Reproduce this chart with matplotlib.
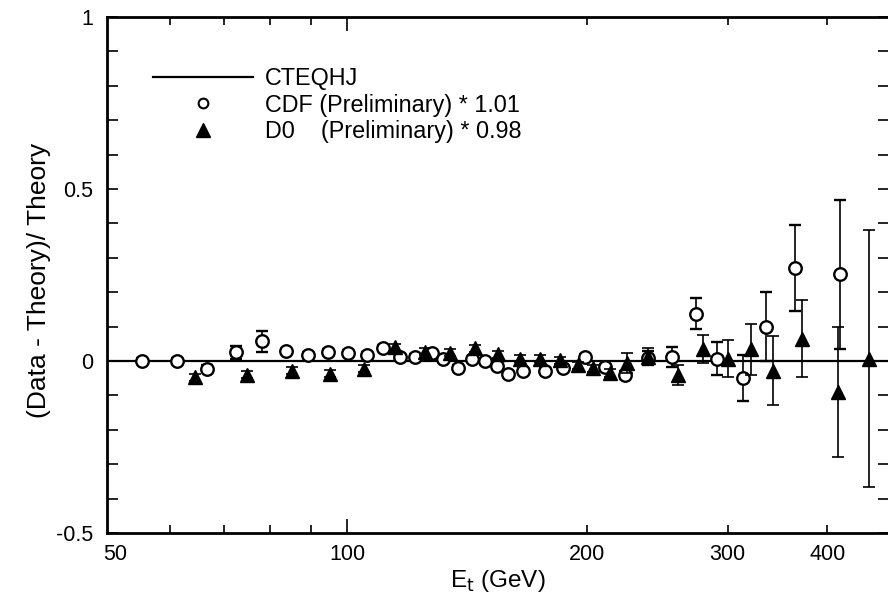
import matplotlib.pyplot as plt
from matplotlib.lines import Line2D
from matplotlib.ticker import FixedLocator, FuncFormatter, MultipleLocator

plt.rcParams['font.family'] = ['Liberation Sans', 'DejaVu Sans']

# CDF inclusive jet cross section, (data - theory)/theory, normalised by 1.01
cdf_et = [55.3, 61.2, 66.7, 72.6, 78.2, 83.8, 89.4, 94.7, 100.3, 105.9,
          111.0, 116.5, 121.7, 127.8, 131.9, 137.8, 143.5, 149.0, 154.2, 159.2,
          166.3, 177.1, 186.6, 198.9, 210.7, 223.2, 238.6, 255.7, 274.0, 291.0,
          313.8, 335.0, 364.7, 415.0]
cdf_val = [0.000, 0.000, -0.023, 0.025, 0.057, 0.028, 0.017, 0.026, 0.024, 0.018,
           0.038, 0.012, 0.013, 0.022, 0.005, -0.021, 0.005, -0.001, -0.015, -0.038,
           -0.028, -0.028, -0.019, 0.011, -0.018, -0.040, 0.008, 0.012, 0.138, 0.007,
           -0.050, 0.100, 0.270, 0.252]
cdf_err = [0.008, 0.008, 0.010, 0.020, 0.030, 0.008, 0.008, 0.008, 0.008, 0.008,
           0.008, 0.008, 0.008, 0.008, 0.008, 0.008, 0.008, 0.008, 0.008, 0.008,
           0.008, 0.008, 0.008, 0.008, 0.010, 0.012, 0.020, 0.030, 0.044, 0.048,
           0.067, 0.101, 0.126, 0.216]

# D0 points, normalised by 0.98
d0_et = [64.5, 74.9, 85.3, 95.2, 105.0, 114.9, 125.3, 134.6, 144.7, 154.7,
         164.8, 174.6, 185.0, 194.9, 203.5, 213.7, 224.5, 238.6, 260.0, 279.6,
         300.5, 321.0, 342.0, 372.0, 412.0, 451.6]
d0_val = [-0.047, -0.040, -0.028, -0.037, -0.022, 0.040, 0.027, 0.024, 0.037, 0.020,
          0.007, 0.007, 0.002, -0.012, -0.021, -0.035, -0.006, 0.012, -0.042, 0.034,
          0.007, 0.034, -0.028, 0.065, -0.090, 0.007]
d0_err = [0.010, 0.010, 0.010, 0.010, 0.010, 0.010, 0.010, 0.010, 0.010, 0.010,
          0.010, 0.010, 0.010, 0.010, 0.010, 0.012, 0.030, 0.025, 0.029, 0.041,
          0.053, 0.075, 0.100, 0.111, 0.189, 0.373]

x_range = [50, 478]
x_labelled = [200, 300, 400]
y_ticks = [-0.5, 0, 0.5, 1]
y_ticklabels = ['-0.5', '0', '0.5', '1']

fig = plt.figure(figsize=(8.88, 5.96), dpi=100)
ax = fig.add_axes([107 / 888, 63 / 596, 782 / 888, 516 / 596])

# theory reference line
ax.plot(x_range, [0, 0], color='k', lw=1.6, zorder=2)

ax.errorbar(cdf_et, cdf_val, yerr=cdf_err, fmt='o', ms=9, mfc='white', mec='k',
            mew=1.7, ecolor='k', elinewidth=1.2, capsize=4.5, capthick=1.2, zorder=3)
ax.errorbar(d0_et, d0_val, yerr=d0_err, fmt='^', ms=10.5, mfc='k', mec='k',
            ecolor='k', elinewidth=1.2, capsize=4.5, capthick=1.2, zorder=4)

ax.set_xscale('log')
ax.set_xlim(*x_range)
ax.set_ylim(-0.5, 1)

ax.xaxis.set_major_locator(FixedLocator([100]))
ax.xaxis.set_minor_locator(FixedLocator([60, 70, 80, 90] + x_labelled))
ax.xaxis.set_major_formatter(FuncFormatter(lambda v, p: f'{v:g}'))
ax.xaxis.set_minor_formatter(FuncFormatter(lambda v, p: f'{v:g}' if v in x_labelled else ''))
ax.set_yticks(y_ticks)
ax.set_yticklabels(y_ticklabels)
ax.yaxis.set_minor_locator(MultipleLocator(0.1))

ax.tick_params(axis='x', which='major', direction='in', length=10, width=1.2,
               top=True, pad=8, labelsize=15.5)
ax.tick_params(axis='x', which='minor', direction='in', length=6, width=1.2,
               top=True, pad=8, labelsize=15.5)
ax.tick_params(axis='y', which='both', direction='in', length=8, width=1.2,
               right=True, pad=10, labelsize=15.5)
for s in ax.spines.values():
    s.set_linewidth(2)

# lowest x label sits just inside the corner
ax.annotate('50', xy=(50, 0), xycoords=('data', 'axes fraction'), xytext=(-3, -8),
            textcoords='offset points', ha='left', va='top', fontsize=15.5)

ax.set_xlabel(r'E$_\mathrm{t}$ (GeV)', fontsize=17.5, labelpad=2)
ax.set_ylabel('(Data - Theory)/ Theory', fontsize=19)
ax.yaxis.set_label_coords(-0.072, 0.49)

handles = [
    Line2D([], [], color='k', lw=1.6),
    Line2D([], [], ls='none', marker='o', ms=7, mfc='white', mec='k', mew=1.5),
    Line2D([], [], ls='none', marker='^', ms=9.5, mfc='k', mec='k'),
]
labels = ['CTEQHJ', 'CDF (Preliminary) * 1.01', 'D0    (Preliminary) * 0.98']
ax.legend(handles, labels, loc='upper left', bbox_to_anchor=(0.059, 0.903),
          frameon=False, fontsize=16.8, handlelength=4.3, handletextpad=0.5,
          labelspacing=0.15, borderpad=0, borderaxespad=0)

fig.savefig('out.png', dpi=100)
